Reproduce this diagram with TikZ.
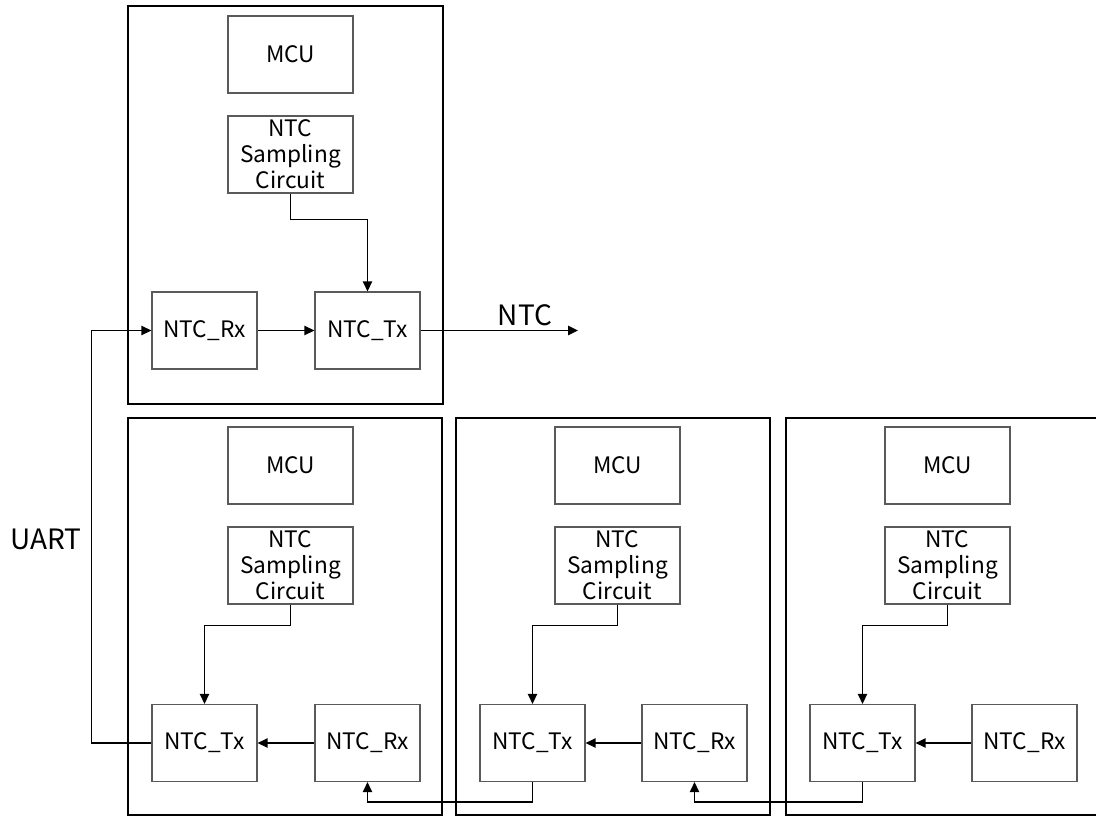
\documentclass[tikz,border=0pt]{standalone}
\usepackage{fontspec}
\setmainfont{Noto Sans CJK SC}
\usetikzlibrary{arrows.meta,positioning}

\tikzset{
  unit/.style={draw=black, line width=2.2pt},
  blk/.style={draw={rgb,255:red,90;green,90;blue,90}, line width=0.9pt, align=center,
    minimum width=93.75pt, minimum height=57.75pt, inner sep=0pt,
    font=\fontsize{17}{19.5}\selectfont},
  port/.style={blk, minimum width=78.75pt},
  conn/.style={draw=black, line width=1.1pt, -{Triangle[length=7.5pt,width=7pt]}},
  wire/.style={draw=black, line width=1.1pt},
  lbl/.style={font=\fontsize{21}{24}\selectfont, inner sep=0pt}
}

\begin{document}
\begin{tikzpicture}[x=0.75pt,y=0.75pt,yscale=-1]
\useasboundingbox (0,0) rectangle (1096,817);

%Shape: Rectangle [top unit]
\draw[unit] (128,6) rectangle (443,404);
%Shape: Rectangle [bottom units]
\draw[unit] (128,418) rectangle (442,815);
\draw[unit] (456,418) rectangle (770,815);
\draw[unit] (786,418) rectangle (1100,815);

% top unit
\node[blk] (tMcu) at (290.5,54.5) {MCU};
\node[blk] (tSmp) at (290.5,154.5) {NTC\\Sampling\\Circuit};
\node[port] (tRx) at (204.5,330.5) {NTC\_Rx};
\node[port] (tTx) at (367.5,330.5) {NTC\_Tx};
\coordinate (ntcOut) at (578,330.5);

% bottom units
\node[blk] (aMcu) at (290.5,465.5) {MCU};
\node[blk] (aSmp) at (290.5,565.5) {NTC\\Sampling\\Circuit};
\node[port] (aTx) at (204.5,743) {NTC\_Tx};
\node[port] (aRx) at (367.5,743) {NTC\_Rx};

\node[blk] (bMcu) at (617.5,465.5) {MCU};
\node[blk] (bSmp) at (617.5,565.5) {NTC\\Sampling\\Circuit};
\node[port] (bTx) at (532.5,743) {NTC\_Tx};
\node[port] (bRx) at (694.5,743) {NTC\_Rx};

\node[blk] (cMcu) at (947.5,465.5) {MCU};
\node[blk] (cSmp) at (947.5,565.5) {NTC\\Sampling\\Circuit};
\node[port] (cTx) at (862.5,743) {NTC\_Tx};
\node[port] (cRx) at (1024.5,743) {NTC\_Rx};

% Text Node
\node[lbl] (ntcLbl) at (525,315) {NTC};
% Text Node
\node[lbl] (uartLbl) at (46,539) {UART};

%Straight Lines [top unit]
\draw[conn] (tSmp.south) -- ++(0,26) -| (tTx.north);
\draw[conn] (tRx.east) -- (tTx.west);
\draw[conn] (tTx.east) -- (ntcOut);

%Straight Lines [bottom units]
\draw[conn] (aSmp.south) -- ++(0,21) -| (aTx.north);
\draw[conn] (bSmp.south) -- ++(0,21) -| (bTx.north);
\draw[conn] (cSmp.south) -- ++(0,21) -| (cTx.north);
\draw[conn] (aRx.west) -- (aTx.east);
\draw[conn] (bRx.west) -- (bTx.east);
\draw[conn] (cRx.west) -- (cTx.east);

%Straight Lines [chain]
\draw[conn] (bTx.south) -- ++(0,20) -| (aRx.south);
\draw[conn] (cTx.south) -- ++(0,20) -| (bRx.south);

%Straight Lines [UART]
\draw[conn] (aTx.west) -- ++(-60,0) |- (tRx.west);

\end{tikzpicture}
\end{document}
